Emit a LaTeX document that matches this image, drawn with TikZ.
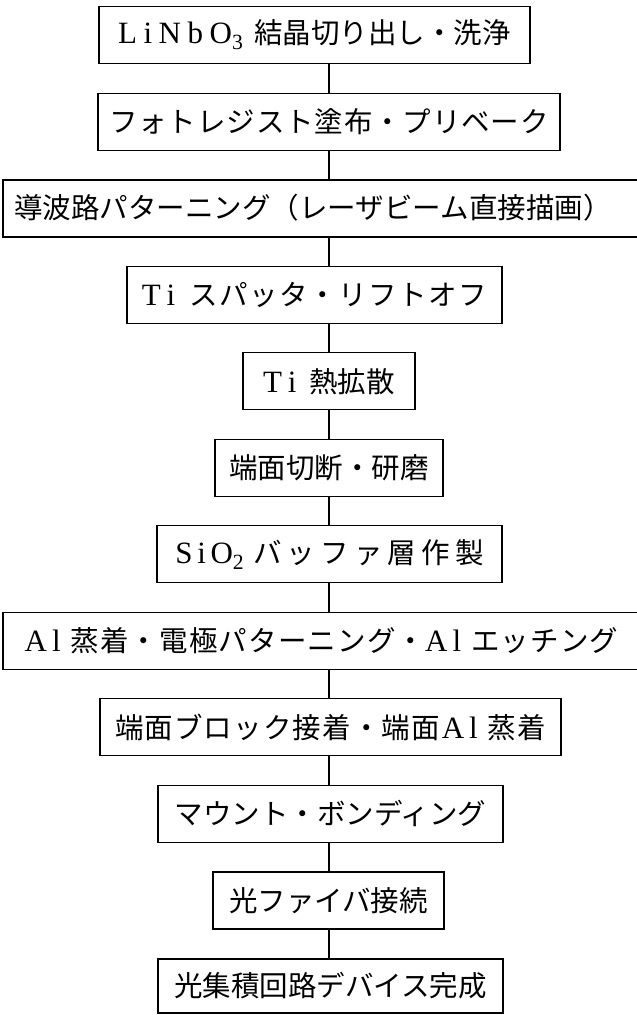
\documentclass[tikz,border=0pt]{standalone}
\usepackage{fontspec}
\newfontfamily\jp{Noto Sans CJK JP}
\newfontfamily\latfont{Liberation Serif}
\newcommand\LT[2]{{\latfont\fontsize{31}{32}\selectfont\addfontfeature{LetterSpace=#1}#2}}
\newcommand\JS[2]{{\addfontfeature{LetterSpace=#1}#2}}
\begin{document}
\begin{tikzpicture}[x=1pt,y=1pt,
  box/.style={draw, line width=1.1pt, inner sep=0pt, minimum height=57pt,
    font=\jp\fontsize{28.5}{30}\selectfont},
  thickbox/.style={box, line width=2.2pt},
  link/.style={line width=1.1pt}]
\useasboundingbox (0,0) rectangle (637,-1015);
\coordinate (ax) at (329,0);
\node[box, minimum width=431pt] (b1) at (314.5,-35) {\LT{21}{LiNbO\textsubscript{3}}\hspace{11pt}結晶切り出し・洗浄};
\node[box, minimum width=462pt] (b2) at (329,-121.55) {\JS{3}{フォトレジスト塗布・プリベーク}};
\node[thickbox, minimum width=636pt] (b3) at (321,-208.1) {\hspace*{-16pt}導波路パターニング（レーザビーム直接描画）};
\node[box, minimum width=375pt] (b4) at (314.5,-294.65) {\LT{22}{Ti}\hspace{14pt}\JS{5}{スパッタ・リフトオフ}};
\node[box, minimum width=172pt] (b5) at (329,-381.2) {\LT{22}{Ti}\hspace{13pt}熱拡散};
\node[box, minimum width=228pt] (b6) at (329,-467.75) {端面切断・研磨};
\node[box, minimum width=345pt] (b7) at (329.5,-554.3) {\LT{15}{SiO\textsubscript{2}}\hspace{9pt}\JS{18}{バッファ層作製}};
\node[box, minimum width=637pt] (b8) at (321.5,-640.85) {\JS{4}{\LT{16}{Al}\hspace{10pt}蒸着・電極パターニング・\LT{16}{Al}\hspace{10pt}エッチング}};
\node[box, minimum width=461pt] (b9) at (330.5,-727.4) {\JS{4}{端面ブロック接着・端面\hspace{2pt}\LT{16}{Al}\hspace{10pt}蒸着}};
\node[box, minimum width=345pt] (b10) at (330.5,-813.95) {マウント・ボンディング};
\node[thickbox, minimum width=231pt] (b11) at (328.5,-900.5) {光ファイバ接続};
\node[box, minimum width=345pt, minimum height=54pt] (b12) at (330.5,-986) {光集積回路デバイス完成};
\foreach \a/\b in {b1/b2,b2/b3,b3/b4,b4/b5,b5/b6,b6/b7,b7/b8,b8/b9,b9/b10,b10/b11,b11/b12}
  \draw[link] (\a.south -| ax) -- (\b.north -| ax);
\end{tikzpicture}
\end{document}
